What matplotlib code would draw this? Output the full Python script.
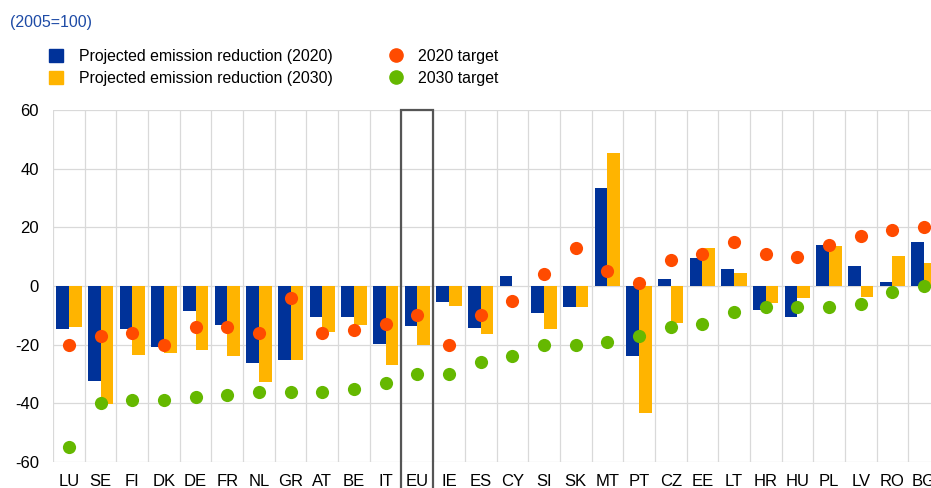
import matplotlib
matplotlib.use('Agg')
import matplotlib.pyplot as plt
from matplotlib.patches import Patch, Rectangle
from matplotlib.lines import Line2D
import numpy as np

plt.rcParams['font.family'] = ['Liberation Sans', 'DejaVu Sans']
plt.rcParams['axes.unicode_minus'] = False

countries = ['LU', 'SE', 'FI', 'DK', 'DE', 'FR', 'NL', 'GR', 'AT', 'BE', 'IT', 'EU', 'IE', 'ES',
             'CY', 'SI', 'SK', 'MT', 'PT', 'CZ', 'EE', 'LT', 'HR', 'HU', 'PL', 'LV', 'RO', 'BG']
proj_2020 = [-14.5, -32.4, -14.5, -20.7, -8.6, -13.3, -26.4, -25.2, -10.5, -10.7, -19.9, -13.5, -5.5, -14.3,
             3.4, -9.1, -7.0, 33.5, -23.9, 2.3, 9.7, 5.7, -8.3, -10.5, 14.1, 6.9, 1.3, 15.0]
proj_2030 = [-13.9, -40.2, -23.4, -22.7, -21.8, -23.8, -32.6, -25.2, -15.8, -13.4, -27.0, -20.1, -6.7, -16.5,
             0.0, -14.5, -7.0, 45.3, -43.4, -12.5, 12.8, 4.3, -5.7, -4.1, 13.8, -3.6, 10.3, 8.0]
target_2020 = [-20, -17, -16, -20, -14, -14, -16, -4, -16, -15, -13, -10, -20, -10,
               -5, 4, 13, 5, 1, 9, 11, 15, 11, 10, 14, 17, 19, 20]
target_2030 = [-55, -40, -39, -39, -38, -37, -36, -36, -36, -35, -33, -30, -30, -26,
               -24, -20, -20, -19, -17, -14, -13, -9, -7, -7, -7, -6, -2, 0]

blue = '#003299'
orange = '#FFB400'
red = '#FF4B00'
green = '#65B800'
grid_c = '#d9d9d9'

fig = plt.figure(figsize=(9.31, 4.88), dpi=100)
ax = fig.add_axes([53 / 931, 1 - 462 / 488, 887 / 931, 352 / 488])

x = np.arange(len(countries))
w = 0.4
ax.bar(x - w / 2, proj_2020, w, color=blue, zorder=2)
ax.bar(x + w / 2, proj_2030, w, color=orange, zorder=2)
ax.scatter(x, target_2020, s=90, color=red, zorder=3, linewidths=0)
ax.scatter(x, target_2030, s=90, color=green, zorder=3, linewidths=0)

# box around EU
eu = countries.index('EU')
ax.add_patch(Rectangle((eu - 0.5, -80), 1, 140, fill=False, edgecolor='#555555',
                       linewidth=1.6, clip_on=False, zorder=4))

ax.set_xlim(-0.5, len(countries) - 0.5)
ax.set_ylim(-60, 60)
ax.set_yticks(np.arange(-60, 61, 20))
ax.set_xticks(x)
ax.set_xticklabels(countries)
ax.set_xticks(np.arange(-0.5, len(countries), 1), minor=True)
ax.grid(axis='y', which='major', color=grid_c, linewidth=0.9, zorder=0)
ax.grid(axis='x', which='minor', color=grid_c, linewidth=0.9, zorder=0)
ax.set_axisbelow(True)
for s in ax.spines.values():
    s.set_visible(False)
ax.tick_params(axis='both', which='both', length=0, labelsize=12)
ax.tick_params(axis='x', pad=9)
ax.tick_params(axis='y', pad=10)

fig.text(10 / 931, 1 - 22 / 488, '(2005=100)', color='#1e4ba6', fontsize=11.5, va='center')

handles = [Patch(color=blue), Patch(color=orange),
           Line2D([], [], marker='o', color=red, linestyle='none', markersize=9.5),
           Line2D([], [], marker='o', color=green, linestyle='none', markersize=9.5)]
labels = ['Projected emission reduction (2020)', 'Projected emission reduction (2030)',
          '2020 target', '2030 target']
fig.legend(handles, labels, ncol=2, loc='upper left', bbox_to_anchor=(49 / 931, 1 - 49 / 488),
           frameon=False, fontsize=11.4, handlelength=0.9, handleheight=0.9, handletextpad=1.0,
           columnspacing=3.5, labelspacing=0.45, borderpad=0, borderaxespad=0)

fig.savefig('out.png', dpi=100)
